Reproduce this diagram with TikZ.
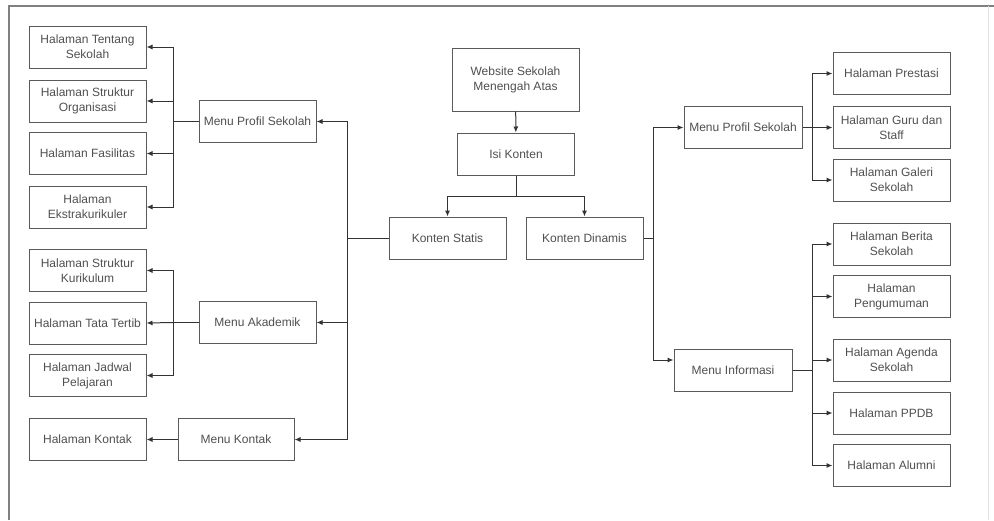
\documentclass[tikz,border=0pt]{standalone}
\usepackage{fontspec}
\setmainfont{Liberation Sans}
\usetikzlibrary{arrows.meta}
\definecolor{boxline}{HTML}{5A5A5A}
\definecolor{wire}{HTML}{333333}
\definecolor{txt}{HTML}{505050}
\definecolor{frameline}{HTML}{808080}
\begin{document}
\begin{tikzpicture}[x=1pt,y=-1pt,
  pagebox/.style={draw=boxline,line width=1pt,fill=white,minimum width=117pt,minimum height=42pt,
    inner sep=1pt,align=center,text=txt,font=\fontsize{12}{15}\selectfont},
  wide/.style={minimum width=127pt,minimum height=63pt},
  arr/.style={draw=wire,line width=1pt,-{Latex[length=6pt,width=5pt]}},
  ln/.style={draw=wire,line width=1pt}]
\useasboundingbox (0,0) rectangle (994,520);
\fill[white] (0,0) rectangle (994,520);
% outer frame of the canvas
\draw[frameline,line width=1.2pt] (9,520) -- (9,6) -- (994,6);
\draw[black!12,line width=0.8pt] (988,6) -- (988,520);

% root
\node[pagebox,wide] (web) at (515.5,79.5) {Website Sekolah\\Menengah Atas};
\node[pagebox] (isi) at (516,154) {Isi Konten};
\node[pagebox] (statis) at (447.5,238) {Konten Statis};
\node[pagebox] (dinamis) at (584.5,238) {Konten Dinamis};

% static side menus
\node[pagebox] (profL) at (257.5,121.5) {Menu Profil Sekolah};
\node[pagebox] (akad) at (257.5,322.5) {Menu Akademik};
\node[pagebox,minimum width=116pt] (kontakM) at (236,439.5) {Menu Kontak};

% static pages
\node[pagebox] (tentang) at (87.5,47) {Halaman Tentang\\Sekolah};
\node[pagebox] (organisasi) at (87.5,101) {Halaman Struktur\\Organisasi};
\node[pagebox] (fasilitas) at (87.5,153.5) {Halaman Fasilitas};
\node[pagebox] (ekstra) at (87.5,207) {Halaman\\Ekstrakurikuler};
\node[pagebox] (kurikulum) at (87.5,270.5) {Halaman Struktur\\Kurikulum};
\node[pagebox] (tatatertib) at (87.5,323) {Halaman Tata Tertib};
\node[pagebox] (jadwal) at (87.5,375.5) {Halaman Jadwal\\Pelajaran};
\node[pagebox] (kontakP) at (87.5,439.5) {Halaman Kontak};

% dynamic side menus
\node[pagebox,minimum width=118pt] (profR) at (743,127.5) {Menu Profil Sekolah};
\node[pagebox,minimum width=118pt] (info) at (733,370.5) {Menu Informasi};

% dynamic pages
\node[pagebox] (prestasi) at (891.5,73.5) {Halaman Prestasi};
\node[pagebox] (guru) at (891.5,127.5) {Halaman Guru dan\\Staff};
\node[pagebox] (galeri) at (891.5,180) {Halaman Galeri\\Sekolah};
\node[pagebox] (berita) at (891.5,244) {Halaman Berita\\Sekolah};
\node[pagebox] (pengumuman) at (891.5,296.5) {Halaman\\Pengumuman};
\node[pagebox] (agenda) at (891.5,360) {Halaman Agenda\\Sekolah};
\node[pagebox] (ppdb) at (891.5,413) {Halaman PPDB};
\node[pagebox] (alumni) at (891.5,465.5) {Halaman Alumni};

% junction points
\coordinate (split) at (516,196);
\coordinate (trunkL) at (347,238);
\coordinate (trunkR) at (653,238);
\coordinate (brProfL) at (173,121.5);
\coordinate (brAkad) at (173,322.5);
\coordinate (brProfR) at (812,127.5);
\coordinate (brInfo) at (812,370.5);

% root connectors
\draw[arr] (web) -- (isi);
\draw[ln] (isi.south) -- (split);
\draw[arr] (split) -| (statis.north);
\draw[arr] (split) -| (dinamis.north);

% static branch
\draw[ln] (statis.west) -- (trunkL);
\draw[arr] (trunkL) |- (profL.east);
\draw[arr] (trunkL) |- (akad.east);
\draw[arr] (trunkL) |- (kontakM.east);

\draw[ln] (profL.west) -- (brProfL);
\draw[arr] (brProfL) |- (tentang.east);
\draw[arr] (brProfL) |- (organisasi.east);
\draw[arr] (brProfL) |- (fasilitas.east);
\draw[arr] (brProfL) |- (ekstra.east);

\draw[ln] (akad.west) -- (brAkad);
\draw[arr] (brAkad) |- (kurikulum.east);
\draw[arr] (brAkad) -- (tatatertib.east);
\draw[arr] (brAkad) |- (jadwal.east);

\draw[arr] (kontakM.west) -- (kontakP.east);

% dynamic branch
\draw[ln] (dinamis.east) -- (trunkR);
\draw[arr] (trunkR) |- (profR.west);
\draw[arr] (trunkR) |- ([yshift=10.5pt]info.west);

\draw[ln] (profR.east) -- (brProfR);
\draw[arr] (brProfR) |- (prestasi.west);
\draw[arr] (brProfR) -- (guru.west);
\draw[arr] (brProfR) |- (galeri.west);

\draw[ln] (info.east) -- (brInfo);
\draw[arr] (brInfo) |- (berita.west);
\draw[arr] (brInfo) |- (pengumuman.west);
\draw[arr] (brInfo) |- (agenda.west);
\draw[arr] (brInfo) |- (ppdb.west);
\draw[arr] (brInfo) |- (alumni.west);
\end{tikzpicture}
\end{document}
